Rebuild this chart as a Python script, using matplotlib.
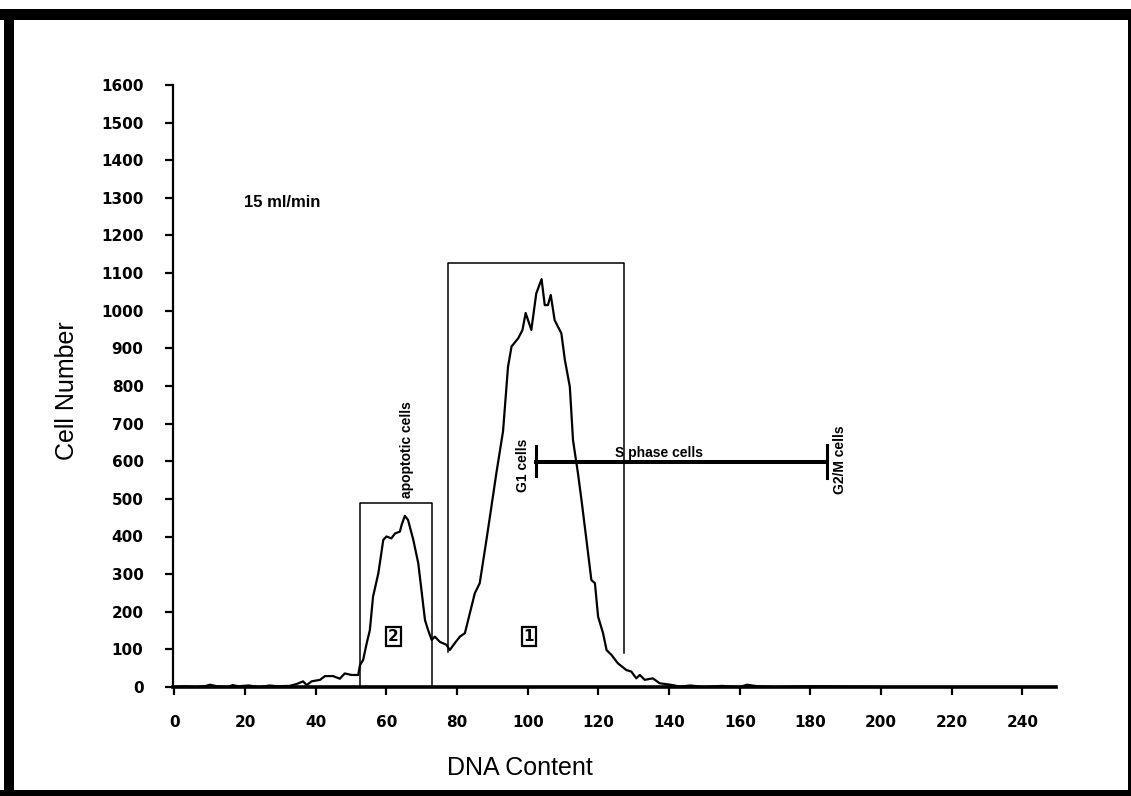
import numpy as np
import matplotlib
matplotlib.use('Agg')
import matplotlib.pyplot as plt
from matplotlib.patches import Rectangle

# --- DATA ---
dna_content = [0, 3, 6, 9, 10, 12, 15, 16.5, 18, 21, 24, 27, 29, 32.6, 34.6, 36.4, 37.4, 38.8,
               41.2, 42.6, 44.9, 46.8, 48.2, 50.1, 52, 52.5, 53.4, 54.4, 55.3, 56.2, 57.7, 59.1,
               60, 61.4, 62.4, 63.8, 64.3, 65.2, 66.1, 67.6, 69, 69.9, 70.9, 71.8, 72.8, 73.7,
               75.1, 77, 77.9, 79.3, 80.8, 82.2, 83.6, 85, 86.4, 88.3, 89.7, 91.1, 93, 94.4, 95.4,
               97.3, 98.5, 99.4, 101, 102.4, 103.9, 104.8, 105.7, 106.5, 107.6, 109.5, 110.5,
               111.9, 112.8, 114.2, 115.2, 116.6, 118, 119, 119.9, 121.3, 122.3, 123.7, 125.5,
               127.9, 129.3, 130.7, 131.7, 133.1, 135.4, 137.3, 141.1, 143, 146, 150, 155, 160,
               162, 165, 170, 180, 200, 220, 240, 249]
cell_number = [0, 2, 0, 3, 6, 2, 0, 5, 2, 4, 0, 4, 2, 3, 8, 15, 5, 15,
               19, 29, 29, 22, 36, 32, 32, 58, 72, 116, 151, 240, 302, 391,
               400, 395, 408, 413, 431, 455, 444, 391, 329, 258, 178, 151, 125, 134,
               120, 112, 98, 116, 134, 143, 196, 249, 276, 391, 479, 568, 680, 851, 905,
               927, 949, 994, 949, 1046, 1084, 1015, 1015, 1042, 975, 940, 869,
               798, 656, 568, 497, 391, 284, 276, 187, 143, 98, 85, 63,
               45, 41, 23, 32, 19, 23, 10, 5, 1, 4, 0, 3, 0,
               6, 2, 0, 2, 0, 0, 0, 0]

# gates: (left, right, top, bottom at left edge, bottom at right edge)
gate_apoptotic = (52.5, 73.0, 490, 5, 0)
gate_main = (77.4, 127.2, 1126, 94, 90)
gate_labels = ['2', '1']
gate_label_x = [62.0, 100.3]

# cell cycle marker bar
g1_pos = 102.3
g2m_pos = 184.8
phase_level = 598

x_ticks = list(range(0, 241, 20))
y_ticks = list(range(0, 1601, 100))

# --- FIGURE ---
fig = plt.figure(figsize=(11.31, 7.96), dpi=100)
ax = fig.add_axes([172.7 / 1131, 109 / 796, (1056 - 172.7) / 1131, (687 - 85) / 796])

ax.plot(dna_content, cell_number, color='black', lw=1.6, solid_joinstyle='round')

# gate boxes
for (l, r, top, bl, br) in [gate_apoptotic, gate_main]:
    ax.plot([l, l, r, r], [bl, top, top, br], color='black', lw=1.1)
for lab, gx in zip(gate_labels, gate_label_x):
    ax.text(gx, 134, lab, ha='center', va='center', fontsize=11, fontweight='bold',
            family='DejaVu Sans',
            bbox=dict(boxstyle='square,pad=0.12', fc='white', ec='black', lw=1.6))

# phase bar
ax.plot([g1_pos, g2m_pos], [phase_level, phase_level], color='black', lw=2.9)
ax.plot([g1_pos, g1_pos], [560, 640], color='black', lw=2.2)
ax.plot([g2m_pos, g2m_pos], [556, 643], color='black', lw=2.2)

lab_font = dict(family='Liberation Sans', fontweight='bold')
ax.text(65.8, 630, 'apoptotic cells', rotation=90, ha='center', va='center', fontsize=10, **lab_font)
ax.text(98.6, 588, 'G1 cells', rotation=90, ha='center', va='center', fontsize=10, **lab_font)
ax.text(188.5, 604, 'G2/M cells', rotation=90, ha='center', va='center', fontsize=10, **lab_font)
ax.text(137.0, 623, 'S phase cells', ha='center', va='center', fontsize=10, **lab_font)
ax.text(30.4, 1288, '15 ml/min', ha='center', va='center', fontsize=12, **lab_font)

# axes styling
ax.set_xlim(-0.5, 249.5)
ax.set_ylim(0, 1600)
ax.spines['top'].set_visible(False)
ax.spines['right'].set_visible(False)
ax.spines['bottom'].set_linewidth(2.6)
ax.spines['left'].set_linewidth(1.6)
ax.set_xticks(x_ticks)
ax.set_yticks(y_ticks)
ax.tick_params(axis='x', direction='out', length=6, width=1.6, pad=14, labelsize=11)
ax.tick_params(axis='y', direction='out', length=6, width=1.6, pad=15, labelsize=11)
for t in ax.get_xticklabels() + ax.get_yticklabels():
    t.set_fontweight('bold')

fig.text(67 / 1131, 1 - 391 / 796, 'Cell Number', rotation=90, ha='center', va='center',
         fontsize=18, family='Liberation Sans')
fig.text(520 / 1131, 1 - 768 / 796, 'DNA Content', ha='center', va='center',
         fontsize=18, family='Liberation Sans')

# black frame around the figure
W, H = 1131, 796
frame = [(0, H - 20, W, 11), (4, 0, 10, H - 9), (0, 0, W, 6), (W - 3, 0, 3, H - 9)]
for (fx, fy, fw, fh) in frame:
    fig.patches.append(Rectangle((fx / W, fy / H), fw / W, fh / H, transform=fig.transFigure,
                                 facecolor='black', edgecolor='none'))

fig.savefig('out.png', dpi=100)
